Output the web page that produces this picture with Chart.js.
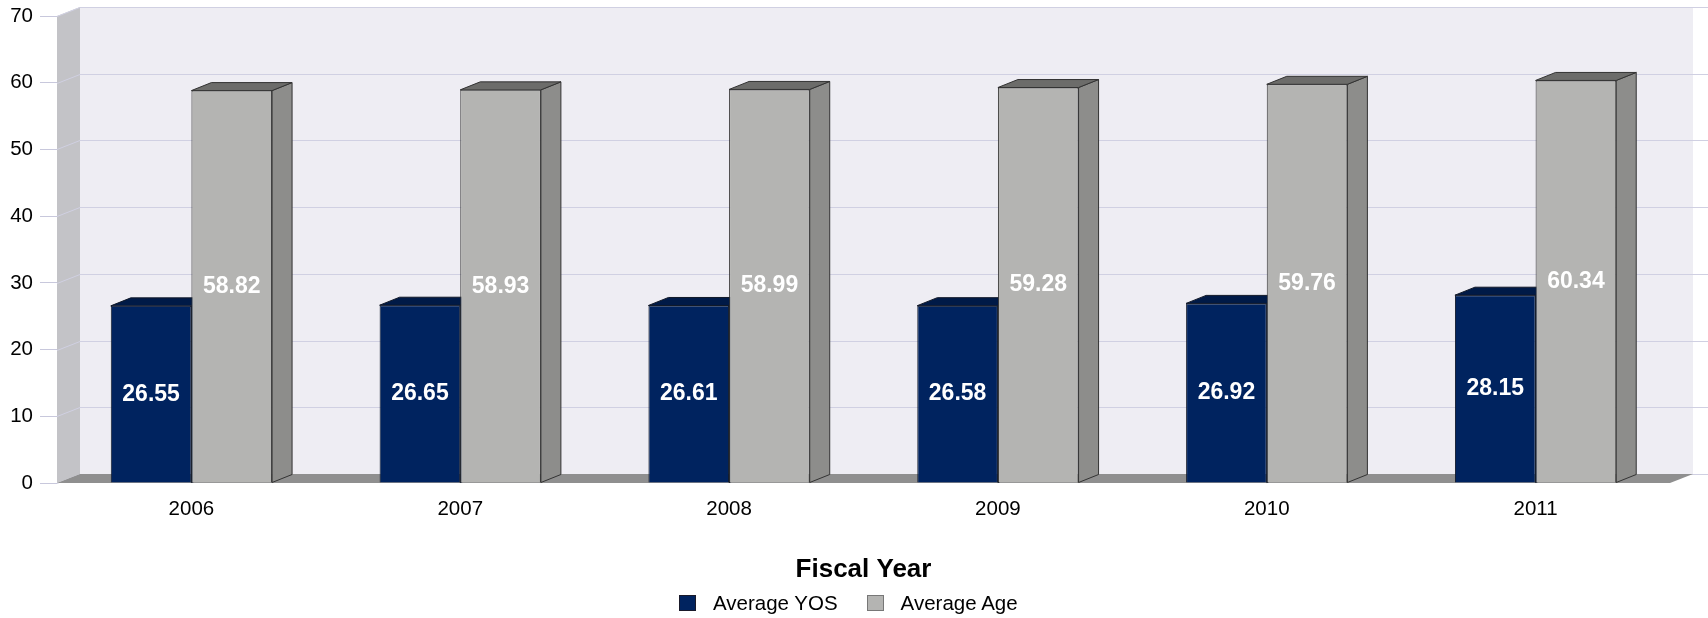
<!DOCTYPE html>
<html>
<head>
<meta charset="utf-8">
<script src="https://cdn.jsdelivr.net/npm/chart.js@4/dist/chart.umd.min.js"></script>
<style>
  html, body { margin: 0; padding: 0; background: #ffffff; }
  #wrap { position: relative; width: 1708px; height: 618px; overflow: hidden; }
  #c { position: absolute; left: 0; top: 0; }
  #legend { position: absolute; left: 679px; top: 590px; height: 26px; display: flex; align-items: center;
            font-family: "Liberation Sans", Arial, sans-serif; font-size: 20.5px; color: #000; }
  .item { display: flex; align-items: center; margin-right: 29px; }
  .box { width: 15px; height: 14px; border: 1px solid #222; margin-right: 17px; }
</style>
</head>
<body>
<div id="wrap">
  <canvas id="c" width="1708" height="618"></canvas>
  <div id="legend"></div>
</div>
<script>
// ---- data ----
const categories = ['2006', '2007', '2008', '2009', '2010', '2011'];
const averageYOS = [26.55, 26.65, 26.61, 26.58, 26.92, 28.15];
const averageAge = [58.82, 58.93, 58.99, 59.28, 59.76, 60.34];
const yTicks = [0, 10, 20, 30, 40, 50, 60, 70];
const seriesNames = ['Average YOS', 'Average Age'];
const xAxisTitle = 'Fiscal Year';

// ---- styles ----
const FONT = '"Liberation Sans", Arial, sans-serif';
const faces = [
  { front: '#00235f', top: '#001a47', side: '#001a47', edge: '#101828', legendEdge: '#1a1a2a' },
  { front: '#b4b4b2', top: '#6c6c6a', side: '#8d8d8b', edge: '#333333', legendEdge: '#777777' }
];
const BAR_DX = 20, BAR_DY = 8;
const WALL_DX = 23, WALL_DY = 9;

function poly(ctx, pts, fill, stroke) {
  ctx.beginPath();
  ctx.moveTo(pts[0][0], pts[0][1]);
  for (let i = 1; i < pts.length; i++) ctx.lineTo(pts[i][0], pts[i][1]);
  ctx.closePath();
  if (fill) { ctx.fillStyle = fill; ctx.fill(); }
  if (stroke) { ctx.strokeStyle = stroke; ctx.lineWidth = 1; ctx.stroke(); }
}

const threeD = {
  id: 'threeD',
  beforeDatasetsDraw(chart) {
    const { ctx, chartArea: a, scales: { y } } = chart;
    const L = a.left, R = a.right, T = a.top, B = a.bottom;
    ctx.save();
    // back wall
    ctx.fillStyle = '#eeedf3';
    ctx.fillRect(L + WALL_DX, T - WALL_DY, R - L, B - T);
    // side wall
    poly(ctx, [[L, T], [L + WALL_DX, T - WALL_DY], [L + WALL_DX, B - WALL_DY], [L, B]], '#c3c3c7');
    // grid lines (side wall diagonal + back wall)
    ctx.strokeStyle = '#d0d0e2';
    ctx.lineWidth = 1;
    y.ticks.forEach(t => {
      const py = Math.round(y.getPixelForValue(t.value)) + 0.5;
      ctx.beginPath();
      ctx.moveTo(L, py);
      ctx.lineTo(L + WALL_DX, py - WALL_DY);
      ctx.lineTo(chart.width, py - WALL_DY);
      ctx.stroke();
    });
    // floor
    poly(ctx, [[L, B], [R, B], [R + WALL_DX, B - WALL_DY], [L + WALL_DX, B - WALL_DY]], '#8f8f8f');
    // bar depth faces (top + side); front faces drawn afterwards by Chart.js cover hidden parts
    chart.data.datasets.forEach((ds, di) => {
      const f = faces[di];
      chart.getDatasetMeta(di).data.forEach(bar => {
        const p = bar.getProps(['x', 'y', 'base', 'width'], true);
        const l = p.x - p.width / 2, r = p.x + p.width / 2, t = p.y, b = p.base;
        poly(ctx, [[r, t], [r + BAR_DX, t - BAR_DY], [r + BAR_DX, b - BAR_DY], [r, b]], f.side, f.edge);
        poly(ctx, [[l, t], [r, t], [r + BAR_DX, t - BAR_DY], [l + BAR_DX, t - BAR_DY]], f.top, f.edge);
      });
    });
    ctx.restore();
  },
  afterDatasetsDraw(chart) {
    const { ctx } = chart;
    ctx.save();
    ctx.fillStyle = '#ffffff';
    ctx.font = 'bold 23px ' + FONT;
    ctx.textAlign = 'center';
    ctx.textBaseline = 'middle';
    chart.data.datasets.forEach((ds, di) => {
      chart.getDatasetMeta(di).data.forEach((bar, i) => {
        const p = bar.getProps(['x', 'y', 'base'], true);
        ctx.fillText(ds.data[i].toFixed(2), p.x, (p.y + p.base) / 2);
      });
    });
    ctx.restore();
  }
};

const chart = new Chart(document.getElementById('c'), {
  type: 'bar',
  data: {
    labels: categories,
    datasets: [
      { label: seriesNames[0], data: averageYOS, backgroundColor: faces[0].front, borderColor: faces[0].edge, borderWidth: 1,
        categoryPercentage: 0.6, barPercentage: 1.0 },
      { label: seriesNames[1], data: averageAge, backgroundColor: faces[1].front, borderColor: faces[1].edge, borderWidth: 1,
        categoryPercentage: 0.6, barPercentage: 1.0 }
    ]
  },
  options: {
    responsive: false,
    devicePixelRatio: 1,
    animation: false,
    layout: { padding: { top: 16, right: 38, bottom: 33, left: 0 } },
    plugins: { legend: { display: false }, tooltip: { enabled: false } },
    scales: {
      x: {
        grid: { display: false, drawTicks: false },
        border: { display: false },
        ticks: { color: '#000', font: { family: FONT, size: 20.5 }, padding: 14 },
        title: { display: true, text: xAxisTitle, color: '#000', font: { family: FONT, size: 26, weight: 'bold' }, padding: { top: 0, bottom: 0 } },
        afterFit(s) { s.height = 102; }
      },
      y: {
        min: 0, max: 70,
        afterBuildTicks(s) { s.ticks = yTicks.map(v => ({ value: v })); },
        ticks: { color: '#000', font: { family: FONT, size: 20.5 }, padding: 7 },
        grid: { drawOnChartArea: false, drawTicks: true, tickLength: 17, color: '#c8c8dc' },
        border: { display: false },
        afterFit(s) { s.width = 57; s.paddingTop = 0; }
      }
    }
  },
  plugins: [threeD]
});

// HTML legend built from the chart's datasets
const legend = document.getElementById('legend');
chart.data.datasets.forEach((ds, i) => {
  const item = document.createElement('div');
  item.className = 'item';
  const box = document.createElement('div');
  box.className = 'box';
  box.style.background = ds.backgroundColor;
  box.style.borderColor = faces[i].legendEdge;
  const txt = document.createElement('span');
  txt.textContent = ds.label;
  item.appendChild(box);
  item.appendChild(txt);
  legend.appendChild(item);
});
</script>
</body>
</html>
